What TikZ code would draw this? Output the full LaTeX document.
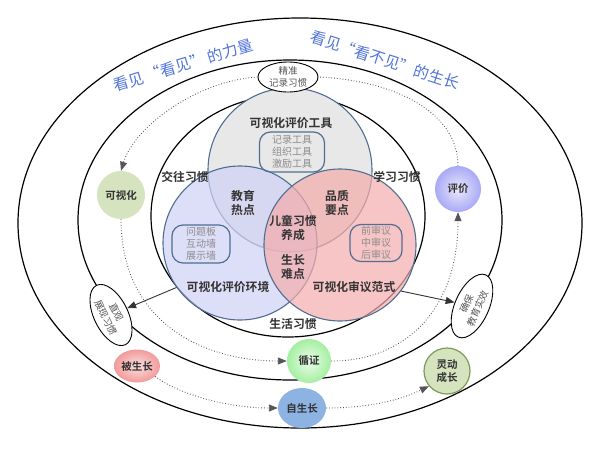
\documentclass[tikz,border=0pt]{standalone}
\usepackage{fontspec}
\setmainfont{Noto Sans CJK SC}[BoldFont={Noto Sans CJK SC Bold}]
\usepackage{tikz}
\usetikzlibrary{arrows.meta,shapes.geometric}
\definecolor{ink}{HTML}{333333}
\definecolor{grey}{HTML}{8C8C8C}
\definecolor{dim}{HTML}{555555}
\definecolor{steel}{HTML}{4F6E92}
\definecolor{title}{HTML}{5274DA}
\definecolor{toolbg}{HTML}{E8E8E8}
\definecolor{envbg}{HTML}{CFD0F5}
\definecolor{revbg}{HTML}{F4ACAC}
\definecolor{olive}{HTML}{D5E3BE}
\definecolor{olivedk}{HTML}{7F9A58}
\definecolor{violet}{HTML}{A9A9F6}
\definecolor{mint}{HTML}{A4EFA0}
\definecolor{sky}{HTML}{8DB3E2}
\definecolor{rose}{HTML}{F29A9A}
\tikzset{
  ring/.style={draw=black, line width=1.2pt},
  trail/.style={draw=dim, line width=0.9pt, dash pattern=on 0.8pt off 2pt},
  tip/.style={-{Triangle[length=9pt,width=7pt]}},
  link/.style={draw=ink, line width=0.9pt, -{Triangle[length=9pt,width=7pt]}},
  venn/.style={circle, draw=steel, line width=1.1pt, inner sep=0pt},
  lbl/.style={text=ink, font=\bfseries\fontsize{11.8}{14.5}\selectfont, align=center},
  tag/.style={rounded corners=11pt, draw=steel, line width=1.2pt, text=grey,
    font=\fontsize{10}{12}\selectfont, align=center, inner sep=0pt},
  hub/.style={circle, inner sep=0pt, text=ink, font=\bfseries\fontsize{10.5}{13}\selectfont, align=center},
  tilt/.style={ellipse, draw=black, fill=white, line width=0.9pt, inner sep=0pt,
    text=dim, font=\fontsize{9.5}{12}\selectfont, align=center},
  head/.style={text=title, font=\fontsize{15.5}{18}\selectfont},
}
\begin{document}
\begin{tikzpicture}[x=1pt,y=-1pt]
  \useasboundingbox (0,0) rectangle (600,448);
  \draw[ring] (300,223) ellipse (282 and 205);
  \draw[ring] (290,220) ellipse (212 and 160);
  \draw[ring] (288,216) ellipse (137 and 121);

  \node[head, rotate=17] (hl) at (183,65) {看见\,“看见”\,的力量};
  \node[head, rotate=-18] (hr) at (385,60) {看见“看不见”的生长};

  \node[venn, fill=toolbg, minimum size=164] (tool) at (290,170) {};
  \node[venn, fill=envbg, fill opacity=0.7, minimum size=154] (env) at (240,243) {};
  \node[venn, fill=revbg, fill opacity=0.7, minimum size=152] (rev) at (340,245) {};

  \node[lbl] (tt) at (291,123) {可视化评价工具};
  \node[tag, minimum width=65, minimum height=40] (tk) at (292,152) {记录工具\\组织工具\\激励工具};
  \node[tag, minimum width=58, minimum height=38] (ek) at (201,244) {问题板\\互动墙\\展示墙};
  \node[tag, minimum width=52, minimum height=37] (rk) at (376,243) {前审议\\中审议\\后审议};
  \node[lbl] (jw) at (185,177) {交往习惯};
  \node[lbl] (xx) at (397,177) {学习习惯};
  \node[lbl] (sh) at (293,324) {生活习惯};
  \node[lbl] (jy) at (243,203) {教育\\热点};
  \node[lbl] (pz) at (337,203) {品质\\要点};
  \node[lbl] (et) at (293,228) {儿童习惯\\养成};
  \node[lbl] (sz) at (293,267) {生长\\难点};
  \node[lbl] (et2) at (228,287) {可视化评价环境};
  \node[lbl] (rt) at (354,287) {可视化审议范式};

  \node[tilt, minimum width=60, minimum height=30] (jz) at (288,77) {精准\\记录习惯};
  \node[tilt, rotate=-64, minimum width=66, minimum height=34] (zg) at (111,315) {直观\\展现习惯};
  \node[tilt, rotate=66, minimum width=68, minimum height=34] (qb) at (472,306) {确保\\教育实效};

  \node[hub, fill=olive, minimum size=48] (ksh) at (121,195) {可视化};
  \node[hub, shading=radial, inner color=white!75!violet, outer color=violet, minimum size=46] (pj) at (458,189) {评价};
  \node[hub, shading=radial, inner color=white!80!mint, outer color=mint, minimum size=44] (xz) at (309,361) {循证};
  \node[hub, ellipse, fill=sky, minimum width=48, minimum height=40] (zsz) at (302,408) {自生长};
  \node[hub, ellipse, shading=radial, inner color=white!70!rose, outer color=rose,
    minimum width=46, minimum height=33] (bsz) at (137,366) {被生长};
  \node[hub, fill=olive, draw=olivedk, line width=1.2pt, minimum size=46] (ld) at (447,371) {灵动\\成长};

  \draw[trail, tip] (jz.west) .. controls (200,80) and (135,125) .. (ksh.north);
  \draw[trail, tip] (ksh.south) .. controls (121,320) and (200,361) .. (xz.west);
  \draw[trail, tip] (xz.east) .. controls (405,361) and (458,310) .. (pj.south);
  \draw[trail] (pj.north) .. controls (458,110) and (390,80) .. (jz.east);
  \draw[trail, tip] (bsz.-30) .. controls (185,398) and (235,408) .. (zsz.west);
  \draw[trail, tip] (zsz.east) .. controls (370,408) and (400,400) .. (ld.220);

  \draw[link] (env.215) -- (zg);
  \draw[link] (rev.323) -- (qb);
\end{tikzpicture}
\end{document}
